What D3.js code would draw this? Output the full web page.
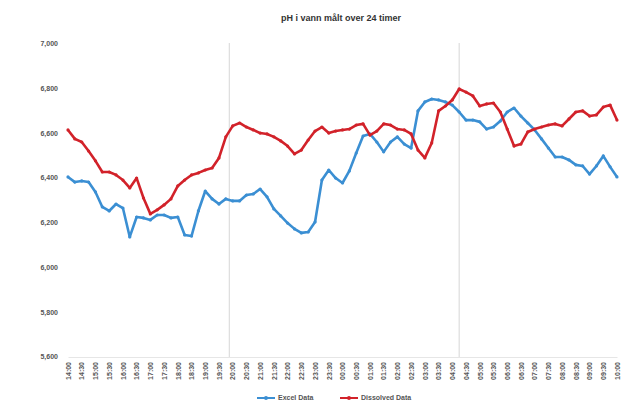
<!DOCTYPE html>
<html><head><meta charset="utf-8">
<script src="https://cdn.jsdelivr.net/npm/d3@7"></script>
<style>body{margin:0;background:#fff}svg{display:block}</style>
</head><body>
<script>
const title = "pH i vann målt over 24 timer";
const startTime = "14:00";
const stepMinutes = 15;
const seriesNames = ["Excel Data", "Dissolved Data"];
const blueValues = [6.403,6.380,6.385,6.380,6.336,6.269,6.251,6.282,6.264,6.135,6.224,6.220,6.211,6.233,6.233,6.220,6.224,6.144,6.139,6.251,6.340,6.305,6.282,6.305,6.296,6.296,6.322,6.327,6.349,6.314,6.260,6.229,6.197,6.171,6.153,6.157,6.202,6.389,6.434,6.398,6.376,6.430,6.510,6.586,6.595,6.559,6.515,6.559,6.582,6.550,6.532,6.698,6.738,6.751,6.747,6.738,6.724,6.693,6.657,6.657,6.649,6.617,6.626,6.653,6.693,6.711,6.675,6.644,6.613,6.573,6.532,6.492,6.492,6.479,6.457,6.452,6.416,6.452,6.497,6.448,6.403];
const redValues = [6.613,6.573,6.559,6.519,6.475,6.425,6.425,6.412,6.389,6.354,6.398,6.309,6.238,6.256,6.278,6.305,6.363,6.389,6.412,6.421,6.434,6.443,6.488,6.582,6.631,6.644,6.626,6.613,6.599,6.595,6.582,6.564,6.541,6.506,6.523,6.568,6.608,6.626,6.599,6.608,6.613,6.617,6.635,6.640,6.590,6.608,6.640,6.635,6.617,6.613,6.595,6.523,6.488,6.555,6.698,6.720,6.747,6.796,6.782,6.765,6.720,6.729,6.733,6.693,6.617,6.541,6.550,6.604,6.617,6.626,6.635,6.640,6.631,6.662,6.693,6.698,6.675,6.680,6.715,6.724,6.657];
const yTicks = [5.6,5.8,6.0,6.2,6.4,6.6,6.8,7.0];
const markerIndices = [23.5, 57];
const colors = ["#3b8fd3", "#d2222a"];

const W = 621, H = 405;
const svg = d3.select("body").append("svg").attr("width", W).attr("height", H);

const [h0, m0] = startTime.split(":").map(Number);
const timeLabel = i => {
  const t = (h0*60 + m0 + i*stepMinutes) % 1440;
  return String(Math.floor(t/60)).padStart(2,"0") + ":" + String(t%60).padStart(2,"0");
};
const n = blueValues.length;
const x = d3.scaleLinear().domain([0, n-1]).range([68, 617]);
const y = d3.scaleLinear().domain([5.6, 7.0]).range([356.7, 43.3]);

svg.append("text").attr("x", 341).attr("y", 21).attr("text-anchor", "middle")
  .attr("font-family", "Liberation Sans, Arial, sans-serif").attr("font-size", 9).attr("font-weight", "bold")
  .attr("fill", "#333").text(title);

svg.selectAll("line.mk").data(markerIndices).join("line")
  .attr("x1", d => x(d)).attr("x2", d => x(d)).attr("y1", 43).attr("y2", 358)
  .attr("stroke", "#d6d6d6").attr("stroke-width", 1);

const yAxis = d3.axisLeft(y).tickValues(yTicks).tickSize(0).tickPadding(0)
  .tickFormat(d => d3.format(".3f")(d).replace(".", ","));
const gy = svg.append("g").attr("transform", "translate(58,0)").call(yAxis);
gy.select(".domain").remove();
gy.selectAll("text").attr("font-family", "Liberation Sans, Arial, sans-serif").attr("font-size", 7).attr("font-weight", "bold").attr("fill", "#555");

const xTicks = d3.range(0, n, 2);
const xAxis = d3.axisBottom(x).tickValues(xTicks).tickSize(0).tickFormat(timeLabel);
const gx = svg.append("g").attr("transform", "translate(0,357)").call(xAxis);
gx.select(".domain").attr("stroke", "#e6e6e6");
gx.selectAll("text").attr("font-family", "Liberation Sans, Arial, sans-serif").attr("font-size", 7).attr("font-weight", "bold").attr("fill", "#555")
  .attr("transform", "rotate(-90)").attr("text-anchor", "end").attr("dy", "0.32em").attr("x", -5).attr("y", 0);

const line = d3.line().x((d,i) => x(i)).y(d => y(d));
[blueValues, redValues].forEach((vals, k) => {
  svg.append("path").datum(vals).attr("d", line).attr("fill", "none")
    .attr("stroke", colors[k]).attr("stroke-width", 2.6).attr("stroke-linejoin", "round");
  svg.append("g").selectAll("circle").data(vals).join("circle")
    .attr("cx", (d,i) => x(i)).attr("cy", d => y(d)).attr("r", 1.6).attr("fill", colors[k]);
});

const leg = svg.append("g").attr("font-family", "Liberation Sans, Arial, sans-serif").attr("font-size", 7).attr("font-weight", "bold").attr("fill", "#555");
const legX = [257, 340];
seriesNames.forEach((name, k) => {
  const g = leg.append("g").attr("transform", `translate(${legX[k]},398)`);
  g.append("line").attr("x1", 0).attr("x2", 18).attr("stroke", colors[k]).attr("stroke-width", 2);
  g.append("circle").attr("cx", 9).attr("r", 2).attr("fill", colors[k]);
  g.append("text").attr("x", 21).attr("dy", "0.35em").text(name);
});
</script>
</body></html>
